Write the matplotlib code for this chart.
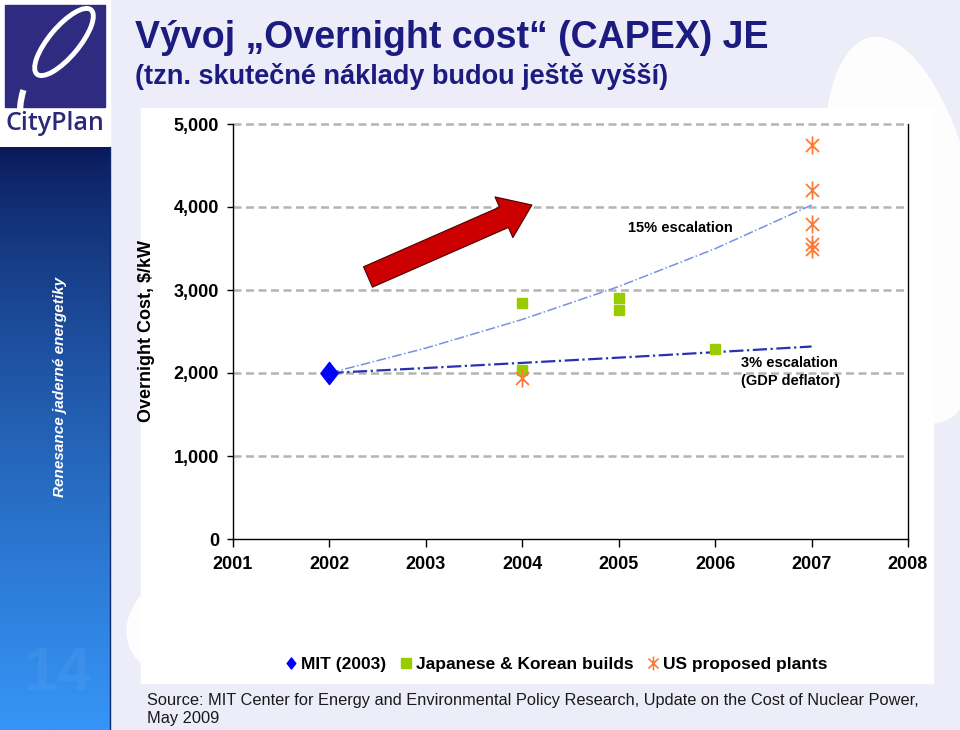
import numpy as np
import matplotlib.pyplot as plt
import matplotlib.patches as mpatches
from matplotlib.lines import Line2D
from matplotlib.path import Path

# data
mit_year = [2002]
mit_cost = [2000]
jk_years = [2004, 2004, 2005, 2005, 2006]
jk_cost = [2840, 2040, 2900, 2760, 2290]
us_years = [2004, 2007, 2007, 2007, 2007, 2007]
us_cost = [1940, 4750, 4210, 3790, 3550, 3490]
esc_years = [2002, 2003, 2004, 2005, 2006, 2007]
esc15 = [2000, 2300, 2645, 3042, 3498, 4023]
esc3 = [2000, 2060, 2122, 2185, 2251, 2319]
yticks = [0, 1000, 2000, 3000, 4000, 5000]
xticks = [2001, 2002, 2003, 2004, 2005, 2006, 2007, 2008]
legend_labels = ['MIT (2003)', 'Japanese & Korean builds', 'US proposed plants']

NAVY = '#1c1b80'
BLUE = '#0000ff'
GREEN = '#99cc00'
ORANGE = '#ff7a33'

# excel style asterisk: vertical bar + X
star = Path([(0, -1), (0, 1), (-0.72, -0.72), (0.72, 0.72), (-0.72, 0.72), (0.72, -0.72)],
            [Path.MOVETO, Path.LINETO, Path.MOVETO, Path.LINETO, Path.MOVETO, Path.LINETO])
diamond = Path([(0, 1), (0.78, 0), (0, -1), (-0.78, 0), (0, 1)],
               [Path.MOVETO, Path.LINETO, Path.LINETO, Path.LINETO, Path.CLOSEPOLY])

plt.rcParams['font.family'] = ['Liberation Sans', 'DejaVu Sans']

fig = plt.figure(figsize=(9.6, 7.3), dpi=100)

# slide background drawn in pixel coordinates
bg = fig.add_axes([0, 0, 1, 1])
bg.axis('off')
bg.add_patch(mpatches.Rectangle((0, 0), 960, 730, color='#ededf9'))
# faint watermark swooshes
bg.add_patch(mpatches.Ellipse((905, 230), 150, 390, angle=-10, color='white', alpha=0.9))
bg.add_patch(mpatches.Ellipse((200, 620), 150, 110, angle=-20, color='white', alpha=0.9))
# white chart panel
bg.add_patch(mpatches.Rectangle((141, 108), 792, 575, color='white'))

# logo
bg.add_patch(mpatches.Rectangle((0, 0), 110, 147, color='white'))
bg.add_patch(mpatches.Rectangle((5, 5), 100, 102, color='#2f2b80'))
bg.add_patch(mpatches.Ellipse((64, 42), 84, 30, angle=-50, fill=False, ec='white', lw=3.5))
bg.add_patch(mpatches.Arc((100, 112), 160, 150, angle=0, theta1=145, theta2=196, ec='white', lw=4.5))
bg.text(55, 123, 'CityPlan', ha='center', va='center', fontsize=18, color='#2b2a78',
        family='Open Sans', weight='semibold')

# left gradient sidebar
grad = np.linspace(0, 1, 256).reshape(-1, 1) ** 0.75
top_c = np.array([0x0a, 0x18, 0x58]) / 255
bot_c = np.array([0x36, 0x95, 0xf7]) / 255
img = top_c + (bot_c - top_c) * grad[:, :, None]
bg.imshow(img, extent=[0, 110, 730, 147], aspect='auto', zorder=2)
bg.plot([110, 110], [147, 730], color='#0d2a70', lw=1, zorder=3)
bg.text(60, 387, 'Renesance jaderné energetiky', rotation=90, ha='center', va='center',
        color='white', fontsize=11, style='italic', weight='bold', zorder=4)
bg.text(57, 675, '14', ha='center', va='center', color='white', alpha=0.05, fontsize=44,
        weight='bold', zorder=4)

# title
bg.text(135, 38, 'Vývoj „Overnight cost“ (CAPEX) JE', ha='left', va='center',
        fontsize=27, weight='bold', color=NAVY)
bg.text(135, 76, '(tzn. skutečné náklady budou ještě vyšší)', ha='left', va='center',
        fontsize=19.5, weight='bold', color=NAVY)

# source
bg.text(147, 700, 'Source: MIT Center for Energy and Environmental Policy Research, '
        'Update on the Cost of Nuclear Power,', ha='left', va='center', fontsize=11.8,
        color='#1a1a1a')
bg.text(147, 719, 'May 2009', ha='left', va='center', fontsize=11.8, color='#1a1a1a')

bg.set_xlim(0, 960)
bg.set_ylim(730, 0)

# chart
ax = fig.add_axes([233 / 960, 1 - 539 / 730, 675 / 960, 415 / 730])
ax.set_facecolor('none')
ax.set_xlim(2001, 2008)
ax.set_ylim(0, 5000)
for y in yticks[1:]:
    ax.axhline(y, color='#b4b4b4', lw=1.8, ls=(0, (3.2, 1.8)), zorder=1, clip_on=False)
ax.spines['top'].set_visible(False)
for s in ['left', 'bottom', 'right']:
    ax.spines[s].set_color('black')
    ax.spines[s].set_linewidth(1)
ax.set_xticks(xticks)
ax.set_xticklabels([str(x) for x in xticks], fontsize=13, weight='bold')
ax.set_yticks(yticks)
ax.set_yticklabels(['{:,}'.format(y) for y in yticks], fontsize=13, weight='bold')
ax.tick_params(axis='x', length=6, width=1, pad=6)
ax.tick_params(axis='y', length=4, width=1, pad=6)
ax.set_ylabel(r'Overnight Cost, \$/kW', fontsize=13, weight='bold')
ax.yaxis.set_label_coords(-78 / 675, 0.5)

ax.plot(esc_years, esc15, color='#7890e0', lw=1.1, ls='-.', zorder=2)
ax.plot(esc_years, esc3, color='#2533b0', lw=1.6, ls='-.', zorder=2)

ax.plot(mit_year, mit_cost, ls='none', marker=diamond, ms=16, color=BLUE, zorder=4)
ax.plot(jk_years, jk_cost, ls='none', marker='s', ms=7.5, color=GREEN, zorder=4)
ax.plot(us_years, us_cost, ls='none', marker=star, ms=13, mew=1.3,
        color=ORANGE, zorder=5)

ax.text(2005.1, 3747, '15% escalation', fontsize=10.5, weight='bold', va='center')
ax.text(2006.27, 2120, '3% escalation', fontsize=10.5, weight='bold', va='center')
ax.text(2006.27, 1904, '(GDP deflator)', fontsize=10.5, weight='bold', va='center')

ax.annotate('', xy=(2004.10, 4024), xytext=(2002.40, 3157),
            arrowprops=dict(arrowstyle='simple,head_length=1.1,head_width=1.6,tail_width=0.8',
                            fc='#cc0000', ec='#4a0000', lw=0.8, mutation_scale=20,
                            shrinkA=0, shrinkB=0), zorder=6)

handles = [Line2D([], [], ls='none', marker=diamond, ms=8, color=BLUE),
           Line2D([], [], ls='none', marker='s', ms=7, color=GREEN),
           Line2D([], [], ls='none', marker=star, ms=10, mew=1.2, color=ORANGE)]
fig.legend(handles, legend_labels, loc='center', bbox_to_anchor=(555 / 960, 1 - 664 / 730),
           ncol=3, frameon=False, handletextpad=0.1, columnspacing=0.6, handlelength=1,
           prop={'size': 12.5, 'weight': 'bold'})

fig.savefig('out.png', dpi=100)
